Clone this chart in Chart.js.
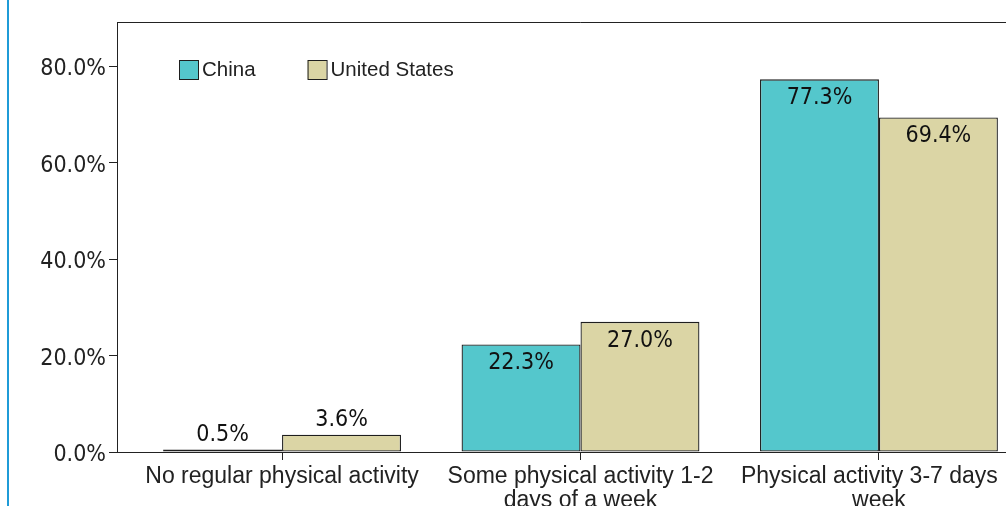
<!DOCTYPE html>
<html>
<head>
<meta charset="utf-8">
<script src="https://cdn.jsdelivr.net/npm/chart.js@4"></script>
<style>
    html, body { margin: 0; padding: 0; background: #fff; overflow: hidden; }
    #wrap { position: relative; width: 1006px; height: 506px; overflow: hidden; }
    #barra { position: absolute; left: 7px; top: 0; width: 2px; height: 506px; background: #1f9bd7; }
    canvas { position: absolute; left: 0; top: 0; }
</style>
</head>
<body>
<div id="wrap">
    <div id="barra"></div>
    <canvas id="grafico" width="1060" height="506"></canvas>
</div>
<script>
// Datos
const categorias = [
    ['No regular physical activity'],
    ['Some physical activity 1-2', 'days of a week'],
    ['Physical activity 3-7 days   ', 'week']
];
const series = ['China', 'United States'];
const valoresChina = [0.5, 22.3, 77.3];
const valoresEEUU = [3.6, 27.0, 69.4];
const ticksY = [0, 20, 40, 60, 80];

const colores = ['#54c7cc', '#dbd5a5'];
const borde = '#1e1e1e';
const fuenteNum = '"DejaVu Sans Condensed", "DejaVu Sans", sans-serif';
const fuenteTxt = '"Liberation Sans", Arial, sans-serif';

// Etiquetas de valor sobre/dentro de las barras
const etiquetasPlugin = {
    id: 'etiquetas',
    afterDatasetsDraw(chart) {
        const ctx = chart.ctx;
        ctx.save();
        ctx.font = '23px ' + fuenteNum;
        ctx.fillStyle = '#111';
        ctx.textAlign = 'center';
        ctx.textBaseline = 'middle';
        chart.data.datasets.forEach((ds, i) => {
            chart.getDatasetMeta(i).data.forEach((bar, j) => {
                const alto = bar.base - bar.y;
                const y = alto < 40 ? bar.y - 15 : bar.y + 19;
                ctx.fillText(ds.data[j].y.toFixed(1) + '%', bar.x, y);
            });
        });
        ctx.restore();
    }
};

// Marco superior y leyenda dentro del área
const marcoPlugin = {
    id: 'marco',
    afterDraw(chart) {
        const ctx = chart.ctx;
        const a = chart.chartArea;
        ctx.save();
        ctx.strokeStyle = '#222';
        ctx.lineWidth = 1;
        ctx.beginPath();
        ctx.moveTo(a.left, a.top + 0.5);
        ctx.lineTo(a.right + 0.5, a.top + 0.5);
        ctx.lineTo(a.right + 0.5, a.bottom);
        ctx.stroke();

        // leyenda
        ctx.font = '20.5px ' + fuenteTxt;
        ctx.textBaseline = 'middle';
        ctx.textAlign = 'left';
        let x = a.left + 62;
        const y = a.top + 38;
        chart.data.datasets.forEach(ds => {
            ctx.fillStyle = ds.backgroundColor;
            ctx.fillRect(x, y, 19, 19);
            ctx.strokeStyle = borde;
            ctx.strokeRect(x + 0.5, y + 0.5, 19, 19);
            ctx.fillStyle = '#222';
            ctx.fillText(ds.label, x + 23, y + 10);
            x += 23 + ctx.measureText(ds.label).width + 52;
        });
        ctx.restore();
    }
};

const ctx = document.getElementById('grafico').getContext('2d');
const chart = new Chart(ctx, {
    type: 'bar',
    data: {
        datasets: [
            {
                label: series[0],
                data: valoresChina.map((v, i) => ({ x: i, y: v })),
                backgroundColor: colores[0],
                borderColor: borde
            },
            {
                label: series[1],
                data: valoresEEUU.map((v, i) => ({ x: i, y: v })),
                backgroundColor: colores[1],
                borderColor: borde
            }
        ]
    },
    options: {
        responsive: false,
        animation: false,
        layout: { padding: { left: 0, top: 22, right: 16, bottom: 0 } },
        datasets: {
            bar: {
                borderWidth: 1.3,
                borderSkipped: false,
                categoryPercentage: 0.797,
                barPercentage: 1
            }
        },
        plugins: {
            legend: { display: false },
            tooltip: { enabled: false }
        },
        scales: {
            x: {
                type: 'linear',
                offset: false,
                min: -0.553,
                max: 2.553,
                ticks: {
                    stepSize: 1,
                    padding: 5,
                    color: '#222',
                    font: { family: fuenteTxt, size: 23, lineHeight: 1.04 },
                    maxRotation: 0,
                    autoSkip: false,
                    callback: v => categorias[v]
                },
                afterBuildTicks: s => {
                    s.ticks = categorias.map((c, i) => ({ value: i }));
                },
                afterFit: s => { s.height = 54; },
                grid: { offset: false, drawOnChartArea: false, drawTicks: true, tickLength: 8, color: '#222' },
                border: { display: true, color: '#222', width: 1 }
            },
            y: {
                min: 0,
                max: 89.2,
                ticks: {
                    padding: 3,
                    labelOffset: 3,
                    color: '#222',
                    font: { family: fuenteNum, size: 23 },
                    callback: v => v.toFixed(1) + '%'
                },
                afterBuildTicks: s => {
                    s.ticks = ticksY.map(v => ({ value: v }));
                },
                afterFit: s => { s.width = 117; },
                grid: { drawOnChartArea: false, drawTicks: true, tickLength: 8, color: '#222' },
                border: { display: true, color: '#222', width: 1 }
            }
        }
    },
    plugins: [etiquetasPlugin, marcoPlugin]
});
</script>
</body>
</html>
